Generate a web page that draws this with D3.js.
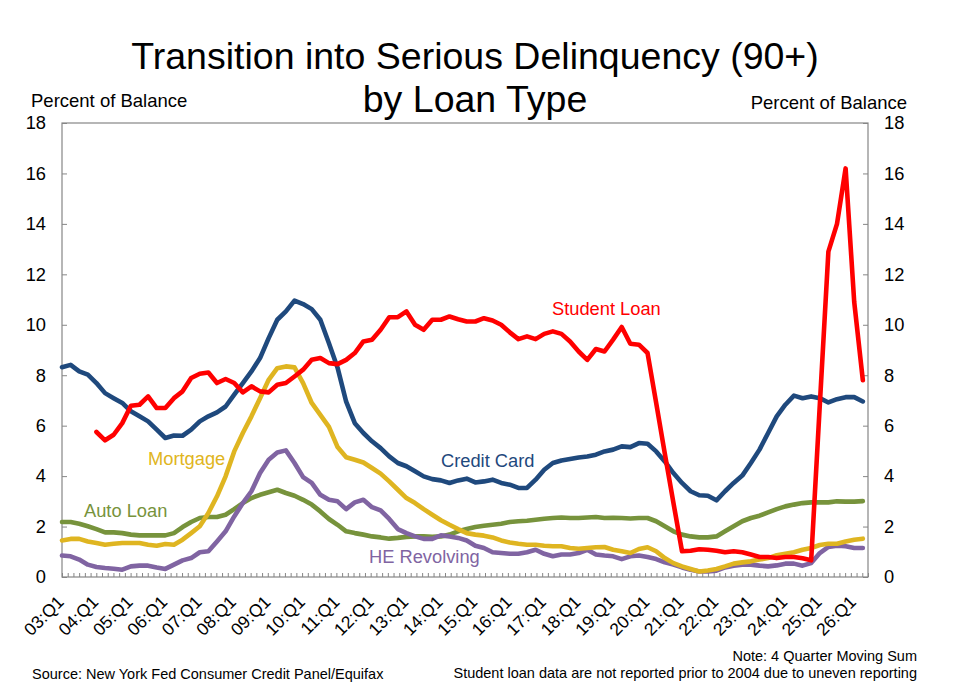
<!DOCTYPE html>
<html>
<head>
<meta charset="utf-8">
<script src="https://cdn.jsdelivr.net/npm/d3@7"></script>
<style>
  body { margin: 0; background: #fff; }
  text { font-family: "Liberation Sans", Arial, sans-serif; }
</style>
</head>
<body>
<div class="chart"></div>
<script>
// quarterly values, 03:Q1 .. 26:Q2, percent of balance
const tickLabels = ["03:Q1","04:Q1","05:Q1","06:Q1","07:Q1","08:Q1","09:Q1","10:Q1","11:Q1","12:Q1","13:Q1","14:Q1",
  "15:Q1","16:Q1","17:Q1","18:Q1","19:Q1","20:Q1","21:Q1","22:Q1","23:Q1","24:Q1","25:Q1","26:Q1"];
const yTicks = [0, 2, 4, 6, 8, 10, 12, 14, 16, 18];

const creditCard = [8.32,8.41,8.15,8.02,7.69,7.29,7.09,6.9,6.57,6.37,
  6.17,5.84,5.51,5.61,5.6,5.84,6.17,6.37,6.53,6.76,
  7.23,7.69,8.15,8.68,9.47,10.2,10.53,10.96,10.82,10.62,
  10.2,9.27,8.3,6.95,6.1,5.71,5.38,5.11,4.78,4.52,
  4.39,4.19,3.99,3.88,3.83,3.73,3.83,3.9,3.75,3.79,
  3.86,3.73,3.66,3.53,3.53,3.86,4.25,4.52,4.62,4.68,
  4.74,4.78,4.85,4.98,5.05,5.18,5.15,5.31,5.28,4.98,
  4.58,4.12,3.73,3.4,3.24,3.22,3.04,3.4,3.73,4.02,
  4.52,5.05,5.71,6.37,6.83,7.19,7.09,7.16,7.09,6.92,
  7.05,7.13,7.13,6.96];

const studentLoan = [null,null,null,null,5.75,5.42,5.64,6.1,6.79,6.83,
  7.16,6.7,6.7,7.09,7.36,7.89,8.06,8.11,7.69,7.85,
  7.69,7.32,7.56,7.36,7.32,7.62,7.69,7.95,8.22,8.61,
  8.68,8.48,8.44,8.61,8.88,9.34,9.41,9.8,10.3,10.3,
  10.53,10.0,9.8,10.2,10.2,10.33,10.22,10.13,10.13,10.26,
  10.17,10.0,9.7,9.43,9.54,9.43,9.64,9.74,9.64,9.34,
  8.94,8.61,9.04,8.94,9.41,9.91,9.25,9.21,8.88,6.9,
  4.9,2.95,1.02,1.04,1.1,1.08,1.04,0.98,1.02,0.98,
  0.89,0.79,0.79,0.75,0.79,0.79,0.74,0.66,6.8,12.9,
  14.0,16.2,10.9,7.8];

const mortgage = [1.45,1.51,1.51,1.41,1.35,1.28,1.32,1.35,1.35,1.35,
  1.28,1.24,1.31,1.28,1.48,1.74,2.01,2.54,3.2,3.99,
  4.98,5.71,6.37,7.09,7.82,8.28,8.35,8.31,7.69,6.9,
  6.43,5.95,5.15,4.75,4.65,4.54,4.32,4.1,3.79,3.46,
  3.13,2.93,2.69,2.47,2.25,2.07,1.9,1.74,1.68,1.64,
  1.57,1.45,1.37,1.32,1.28,1.28,1.24,1.22,1.22,1.15,
  1.12,1.15,1.18,1.19,1.08,1.02,0.95,1.11,1.18,1.02,
  0.75,0.55,0.42,0.32,0.22,0.26,0.32,0.42,0.53,0.58,
  0.62,0.69,0.75,0.86,0.92,0.98,1.08,1.15,1.27,1.32,
  1.32,1.41,1.48,1.52];

const autoLoan = [2.18,2.18,2.11,2.01,1.9,1.77,1.77,1.74,1.68,1.65,
  1.65,1.65,1.65,1.74,1.98,2.18,2.34,2.38,2.38,2.47,
  2.69,2.93,3.13,3.26,3.36,3.46,3.33,3.22,3.06,2.87,
  2.6,2.3,2.07,1.81,1.74,1.68,1.61,1.57,1.52,1.55,
  1.59,1.61,1.61,1.59,1.61,1.68,1.81,1.9,1.98,2.03,
  2.07,2.11,2.18,2.21,2.23,2.27,2.31,2.34,2.36,2.34,
  2.34,2.36,2.38,2.34,2.35,2.34,2.32,2.34,2.34,2.21,
  2.01,1.81,1.68,1.61,1.57,1.57,1.61,1.81,2.01,2.21,
  2.34,2.43,2.56,2.69,2.8,2.87,2.93,2.96,2.96,2.96,
  3.0,2.99,2.99,3.01];

const heRevolving = [0.85,0.82,0.69,0.49,0.4,0.36,0.33,0.29,0.42,0.45,
  0.45,0.38,0.32,0.49,0.66,0.75,0.98,1.02,1.41,1.81,
  2.4,2.93,3.4,4.12,4.65,4.94,5.02,4.52,3.96,3.73,
  3.26,3.06,3.0,2.69,2.96,3.06,2.77,2.64,2.3,1.9,
  1.74,1.61,1.51,1.51,1.65,1.61,1.55,1.45,1.24,1.15,
  0.98,0.95,0.92,0.92,0.98,1.08,0.92,0.82,0.89,0.89,
  0.95,1.08,0.89,0.85,0.82,0.71,0.82,0.85,0.79,0.71,
  0.58,0.49,0.38,0.29,0.22,0.22,0.25,0.38,0.45,0.49,
  0.49,0.45,0.42,0.46,0.53,0.53,0.45,0.55,0.95,1.19,
  1.24,1.22,1.15,1.15];

const quarters = d3.range(2003, 2027)
  .flatMap(y => [1, 2, 3, 4].map(q => String(y % 100).padStart(2, "0") + ":Q" + q))
  .slice(0, creditCard.length);

// drawn bottom to top
const series = [
  {name: "Auto Loan", values: autoLoan, color: "#77933c", lx: 84, ly: 517},
  {name: "HE Revolving", values: heRevolving, color: "#8064a2", lx: 369, ly: 563},
  {name: "Credit Card", values: creditCard, color: "#1f497d", lx: 441, ly: 467},
  {name: "Mortgage", values: mortgage, color: "#dfb521", lx: 148, ly: 465},
  {name: "Student Loan", values: studentLoan, color: "#ff0000", lx: 552, ly: 315}
];

const margin = {top: 123, left: 62, bottom: 111, right: 85};
const width = 953 - margin.left - margin.right;
const height = 688 - margin.top - margin.bottom;
const axisColor = "#868686";
const font = '"Liberation Sans", Arial, sans-serif';

const root = d3.select(".chart").append("svg")
  .attr("width", 953)
  .attr("height", 688);

const svg = root.append("g")
  .attr("transform", `translate(${margin.left},${margin.top})`);

const xScale = d3.scaleLinear()
  .domain([0, 93.6])
  .range([0, width]);

const yScale = d3.scaleLinear()
  .domain([0, 18])
  .range([height, 0]);

// frame
svg.append("rect")
  .attr("width", width)
  .attr("height", height)
  .attr("fill", "none")
  .attr("stroke", axisColor)
  .attr("stroke-width", 1.2);

const styleAxis = g => {
  g.select(".domain").remove();
  g.selectAll(".tick line").attr("stroke", axisColor);
  g.selectAll(".tick text")
    .attr("font-family", font)
    .attr("font-size", 18.3)
    .attr("fill", "#000");
};

svg.append("g")
  .call(d3.axisLeft(yScale).tickValues(yTicks).tickSize(-5).tickSizeOuter(0).tickPadding(16))
  .call(styleAxis);

svg.append("g")
  .attr("transform", `translate(${width},0)`)
  .call(d3.axisRight(yScale).tickValues(yTicks).tickSize(-5).tickSizeOuter(0).tickPadding(16))
  .call(styleAxis);

// small ticks along the bottom
svg.append("g")
  .attr("transform", `translate(0,${height})`)
  .call(d3.axisBottom(xScale)
    .tickValues(d3.range(0, 142).map(k => k * 93.6 / 141))
    .tickSize(-4).tickSizeOuter(0).tickFormat(""))
  .call(styleAxis);

svg.append("g")
  .selectAll("text")
  .data(tickLabels)
  .join("text")
  .attr("transform", d => `translate(${xScale(quarters.indexOf(d)) + 3},${height + 26}) rotate(-45)`)
  .attr("text-anchor", "end")
  .attr("font-size", 17.5)
  .attr("fill", "#000")
  .text(d => d);

const line = d3.line()
  .defined(d => d != null)
  .x((d, i) => xScale(i))
  .y(d => yScale(d));

svg.selectAll(".series")
  .data(series)
  .join("path")
  .attr("class", "series")
  .attr("fill", "none")
  .attr("stroke", d => d.color)
  .attr("stroke-width", 4.6)
  .attr("stroke-linejoin", "round")
  .attr("stroke-linecap", "round")
  .attr("d", d => line(d.values));

root.selectAll(".series-label")
  .data(series)
  .join("text")
  .attr("class", "series-label")
  .attr("x", d => d.lx)
  .attr("y", d => d.ly)
  .attr("font-size", 18.3)
  .attr("fill", d => d.color)
  .text(d => d.name);

// titles and notes
root.append("text")
  .attr("x", 475).attr("y", 69)
  .attr("text-anchor", "middle")
  .attr("font-size", 37.5)
  .text("Transition into Serious Delinquency (90+)");

root.append("text")
  .attr("x", 475).attr("y", 112)
  .attr("text-anchor", "middle")
  .attr("font-size", 37.5)
  .text("by Loan Type");

root.append("text")
  .attr("x", 31).attr("y", 107)
  .attr("font-size", 18.5)
  .text("Percent of Balance");

root.append("text")
  .attr("x", 907).attr("y", 109)
  .attr("text-anchor", "end")
  .attr("font-size", 18.5)
  .text("Percent of Balance");

root.append("text")
  .attr("x", 32).attr("y", 679)
  .attr("font-size", 14.5)
  .text("Source: New York Fed Consumer Credit Panel/Equifax");

root.append("text")
  .attr("x", 917).attr("y", 661)
  .attr("text-anchor", "end")
  .attr("font-size", 14.5)
  .text("Note: 4 Quarter Moving Sum");

root.append("text")
  .attr("x", 917).attr("y", 678)
  .attr("text-anchor", "end")
  .attr("font-size", 14.5)
  .text("Student loan data are not reported prior to 2004 due to uneven reporting");
</script>
</body>
</html>
